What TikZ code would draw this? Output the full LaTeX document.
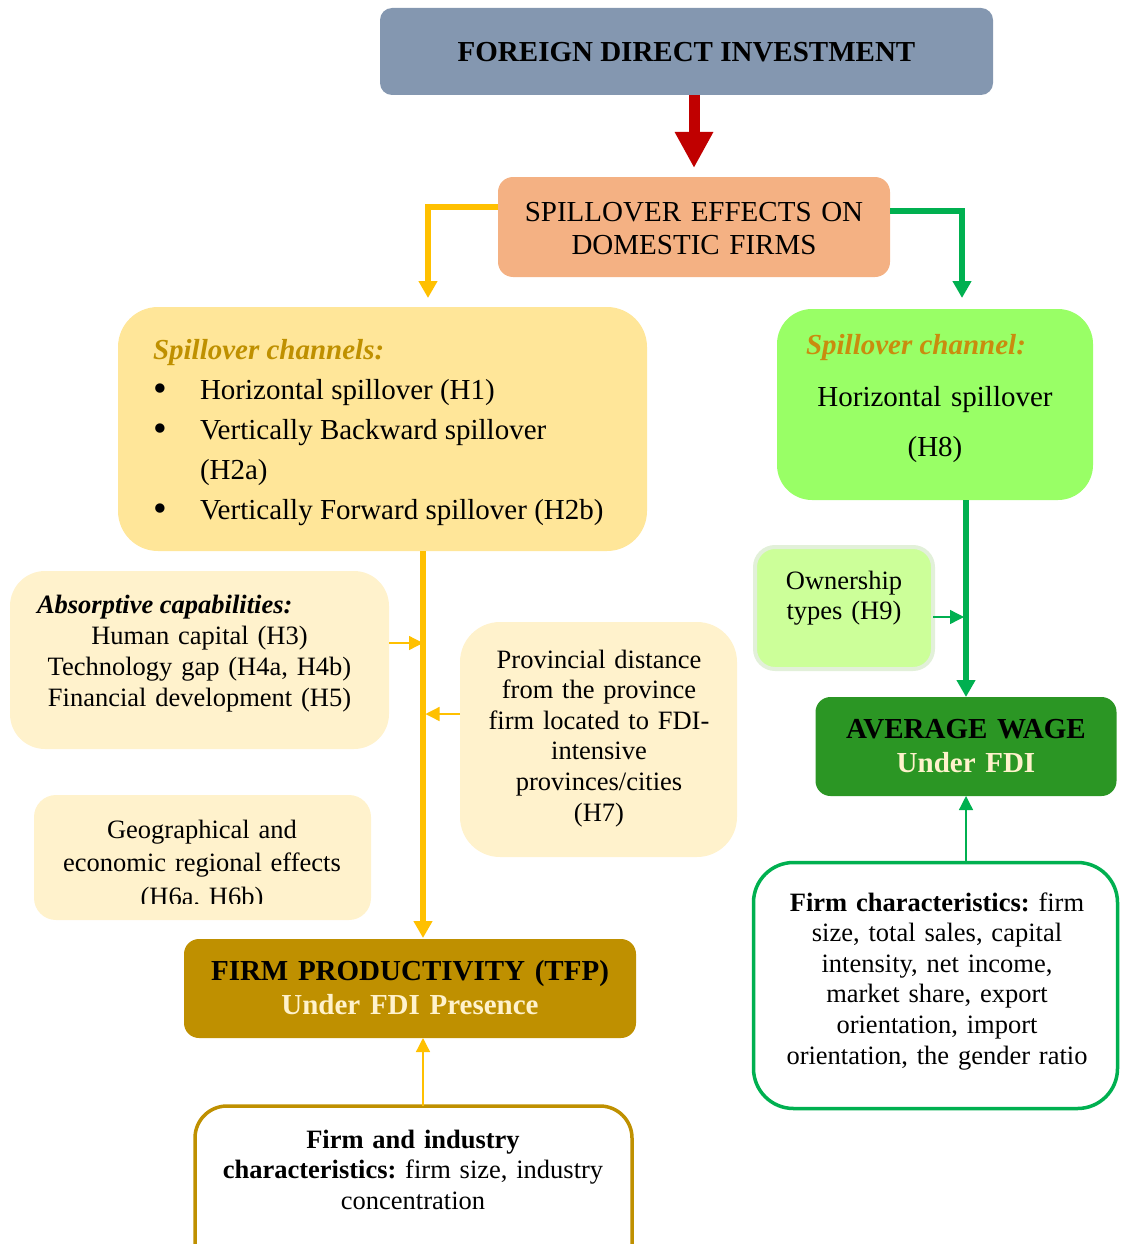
\documentclass[tikz,border=0pt]{standalone}
\usepackage{fontspec}
\usepackage{graphicx}
\setmainfont{Liberation Serif}
\usetikzlibrary{arrows.meta,calc}

\definecolor{fdiblue}{HTML}{8497B0}
\definecolor{peach}{HTML}{F4B183}
\definecolor{sandfill}{HTML}{FFE699}
\definecolor{cream}{HTML}{FFF2CC}
\definecolor{gold}{HTML}{BF9000}
\definecolor{amber}{HTML}{FFC000}
\definecolor{leaf}{HTML}{00B050}
\definecolor{lime}{HTML}{99FF66}
\definecolor{palelime}{HTML}{CCFF99}
\definecolor{limeedge}{HTML}{E2F0D9}
\definecolor{forest}{HTML}{2B9624}
\definecolor{ochre}{HTML}{C98C0E}
\definecolor{crimson}{HTML}{C00000}

\newcommand\chanbullet{\raisebox{-2pt}{\scalebox{1.35}{\textbullet}}}
\frenchspacing

\begin{document}
\begin{tikzpicture}[x=1pt,y=-1pt,
  panel/.style={rectangle, inner sep=0pt, outer sep=0pt},
  txt/.style={inner sep=0pt, outer sep=0pt, anchor=base, align=center},
  hdr/.style={inner sep=0pt, outer sep=0pt, anchor=base west},
  big/.style={font=\fontsize{29}{33}\selectfont\frenchspacing},
  small/.style={font=\fontsize{26.5}{30.6}\selectfont\frenchspacing},
  thickY/.style={draw=amber, line width=5.5pt, -{Triangle[width=18pt,length=17pt]}},
  thickG/.style={draw=leaf, line width=5.5pt, -{Triangle[width=18pt,length=17pt]}},
  thinY/.style={draw=amber, line width=1.3pt, -{Triangle[width=14pt,length=14pt]}},
  thinG/.style={draw=leaf, line width=1.3pt, -{Triangle[width=14pt,length=14pt]}}]

\useasboundingbox (0,0) rectangle (1121,1244);
\clip (0,0) rectangle (1121,1244);

% top: FDI and spillover effects
\node[panel, fill=fdiblue, rounded corners=12pt, minimum width=613pt, minimum height=87pt] (fdi) at (686.5,51.5) {};
\node[txt, font=\fontsize{29}{33}\selectfont\bfseries] (fdiT) at (686.5,62) {FOREIGN DIRECT INVESTMENT};

\node[panel, fill=peach, rounded corners=15pt, minimum width=392pt, minimum height=100pt] (spill) at (694,227) {};
\node[txt, text width=380pt, big] (spillT) at (694,221) {SPILLOVER EFFECTS ON\\DOMESTIC FIRMS};

% left branch: spillover channels
\node[panel, fill=sandfill, rounded corners=40pt, minimum width=529pt, minimum height=244pt] (chan) at (382.5,429) {};
\node[hdr, font=\fontsize{29}{40}\selectfont\frenchspacing] (chanT) at (153,359) {%
  \begin{tabular}[t]{@{}p{47pt}@{}l@{}}
    \multicolumn{2}{@{}l@{}}{\color{gold}\bfseries\itshape Spillover channels:}\\
    \chanbullet & Horizontal spillover (H1)\\
    \chanbullet & Vertically Backward spillover\\
                & (H2a)\\
    \chanbullet & Vertically Forward spillover (H2b)
  \end{tabular}};

% right branch: spillover channel
\node[panel, fill=lime, rounded corners=35pt, minimum width=316pt, minimum height=191pt] (grn) at (935,404.5) {};
\node[hdr, font=\fontsize{29}{33}\selectfont\bfseries\itshape, text=ochre] (grnH) at (806,354) {Spillover channel:};
\node[txt, text width=300pt, font=\fontsize{29}{50}\selectfont] (grnT) at (935,406) {Horizontal spillover\\(H8)};

% ownership types
\node[panel, fill=palelime, draw=limeedge, line width=4pt, rounded corners=20pt, minimum width=178pt, minimum height=122pt] (own) at (844,608) {};
\node[txt, text width=170pt, small] (ownT) at (844,589) {Ownership\\types (H9)};

% average wage
\node[panel, fill=forest, rounded corners=15pt, minimum width=301pt, minimum height=99pt] (wage) at (966,746.5) {};
\node[txt, text width=290pt, font=\fontsize{29}{34}\selectfont\bfseries] (wageT) at (966,738) {AVERAGE WAGE\\\textcolor{cream}{Under FDI}};

% absorptive capabilities
\node[panel, fill=cream, rounded corners=35pt, minimum width=379pt, minimum height=178pt] (abs) at (199.5,660) {};
\node[hdr, font=\fontsize{26.5}{31}\selectfont\bfseries\itshape] (absH) at (37,613) {Absorptive capabilities:};
\node[txt, text width=360pt, font=\fontsize{26.5}{31}\selectfont] (absT) at (199.5,644) {Human capital (H3)\\Technology gap (H4a, H4b)\\Financial development (H5)};

% provincial distance
\node[panel, fill=cream, rounded corners=40pt, minimum width=277pt, minimum height=235pt] (prov) at (598.5,739.5) {};
\node[txt, text width=270pt, small] (provT) at (599,668) {Provincial distance\\from the province\\firm located to FDI-\\intensive\\provinces/cities\\(H7)};

% regional effects (text box cut at its lower edge)
\node[panel, fill=cream, rounded corners=22pt, minimum width=337pt, minimum height=125pt] (geo) at (202.5,857.5) {};
\begin{scope}
  \clip (34,795) rectangle (371,903);
  \node[txt, text width=330pt, font=\fontsize{26.5}{33.5}\selectfont] (geoT) at (202,838) {Geographical and\\economic regional effects\\(H6a, H6b)};
\end{scope}

% firm productivity
\node[panel, fill=gold, rounded corners=15pt, minimum width=452pt, minimum height=99pt] (tfp) at (410,988.5) {};
\node[txt, text width=440pt, font=\fontsize{29}{34}\selectfont\bfseries] (tfpT) at (410,980) {FIRM PRODUCTIVITY (TFP)\\\textcolor{cream}{Under FDI Presence}};

% firm and industry characteristics
\node[panel, fill=white, draw=gold, line width=3.5pt, rounded corners=32pt, minimum width=437pt, minimum height=170pt] (ind) at (413.5,1191) {};
\node[txt, text width=420pt, small] (indT) at (413,1148) {\textbf{Firm and industry}\\\textbf{characteristics:} firm size, industry\\concentration};

% firm characteristics
\node[panel, fill=white, draw=leaf, line width=3.5pt, rounded corners=40pt, minimum width=364pt, minimum height=246pt] (fchar) at (935.5,985.5) {};
\node[txt, text width=350pt, small] (fcharT) at (937,911) {\textbf{Firm characteristics:} firm\\size, total sales, capital\\intensity, net income,\\market share, export\\orientation, import\\orientation, the gender ratio};

% connectors
\draw[draw=crimson, line width=11pt, -{Triangle[width=36pt,length=36pt]}, shorten >=9pt] (spill.north |- fdi.south) -- (spill.north);
\draw[thickY, shorten >=9pt] ([yshift=20pt]spill.west) -| ($(chan.north)+(45.5,0)$);
\draw[thickG, shorten >=11pt] ([yshift=16pt]spill.east) -| ($(grn.north)+(27,0)$);

\coordinate (ydrop) at ($(tfp.north)+(13,0)$);
\draw[thickY, shorten >=1pt] (ydrop |- chan.south) -- (ydrop);
\draw[thickG] (wage.north |- grn.south) -- (wage.north);

\coordinate (ja) at (423,643);
\draw[thinY] (abs.east |- ja) -- (ja);
\coordinate (jp) at (425.5,714);
\draw[thinY] (prov.west |- jp) -- (jp);
\coordinate (jo) at (964,617);
\draw[thinG] (own.east |- jo) -- (jo);

\coordinate (tfpin) at ($(tfp.south)+(13,0)$);
\draw[thinY] (tfpin |- ind.north) -- (tfpin);
\draw[thinG] (wage.south |- fchar.north) -- (wage.south);

\end{tikzpicture}
\end{document}
